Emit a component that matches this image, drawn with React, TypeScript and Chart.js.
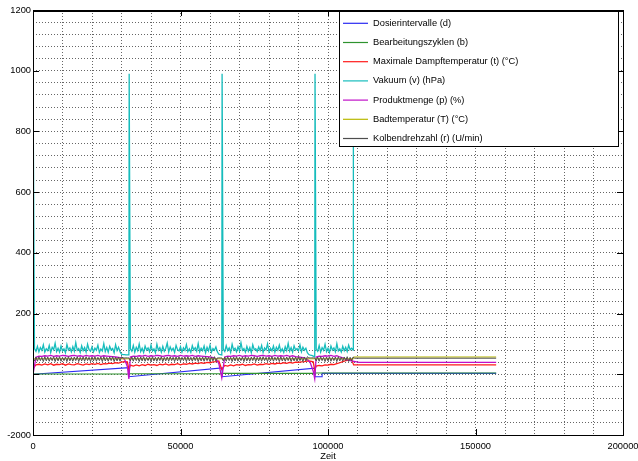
import React, { useEffect, useRef } from 'react';
import { Chart, registerables } from 'chart.js';

Chart.register(...registerables);

// ---------- DATA ----------
const SERIES_LABELS = [
  'Dosierintervalle (d)',
  'Bearbeitungszyklen (b)',
  'Maximale Dampftemperatur (t) (°C)',
  'Vakuum (v) (hPa)',
  'Produktmenge (p) (%)',
  'Badtemperatur (T) (°C)',
  'Kolbendrehzahl (r) (U/min)',
];
const SERIES_COLORS = ['#2a2af2', '#2e932e', '#ff1a1a', '#16bcbc', '#c010c8', '#b8b800', '#4e4e4e'];

// Dosierintervalle: sawtooth
const DOSIER_T = [0, 32500, 32500, 64100, 64100, 95600, 95600, 98000, 98000, 157000];
const DOSIER_V = [0, 22, -8, 21, -8, 20, -8, -8, 3, 3];

// Bearbeitungszyklen: steps
const BEARB_T = [0, 32500, 32500, 64100, 64100, 95600, 95600, 157000];
const BEARB_V = [1, 1, 2, 2, 3, 3, 4, 4];

// Maximale Dampftemperatur (one value per 1000 Zeit)
const DAMPF_STEP = 1000;
const DAMPF = [
  20, 31, 33, 30, 34, 31, 35, 30, 33, 32,
  35, 30, 34, 32, 31, 35, 33, 30, 34, 32,
  35, 33, 36, 32, 35, 34, 37, 35, 38, 37,
  40, 42, 41, 30, 27, 31, 28, 32, 29, 33,
  30, 32, 29, 33, 31, 34, 30, 33, 32, 35,
  31, 34, 33, 36, 34, 37, 35, 38, 36, 39,
  38, 41, 42, 44, 16, 29, 27, 31, 28, 32,
  30, 33, 29, 32, 31, 34, 30, 33, 32, 35,
  33, 36, 34, 37, 35, 38, 36, 39, 37, 40,
  39, 41, 42, 44, 43, 41, 27, 29, 28, 31,
  30, 33, 32, 35, 38, 42, 45, 47, 49,
];
const DAMPF_EXTRA_T = [32500, 95500, 108700, 157000];
const DAMPF_EXTRA_V = [16, 14, 31, 31];

// Vakuum (one value per 500 Zeit)
const VAKUUM_STEP = 500;
const VAKUUM = [
  990, 85, 76, 92, 74, 88, 79, 97, 73, 84,
  78, 95, 72, 89, 81, 102, 75, 86, 73, 93,
  77, 84, 71, 98, 80, 87, 74, 91, 76, 104,
  79, 85, 72, 94, 78, 88, 73, 99, 81, 76,
  90, 74, 86, 79, 96, 72, 83, 77, 101, 75,
  88, 73, 92, 80, 85, 71, 97, 78, 89, 74,
  66, 65, 65, 64, 64, 64, 84, 76, 95, 73,
  89, 78, 100, 75, 86, 72, 93, 80, 87, 74,
  96, 77, 84, 71, 99, 79, 88, 73, 92, 76,
  85, 103, 74, 90, 78, 86, 72, 95, 81, 77,
  91, 73, 87, 79, 98, 75, 84, 72, 94, 80,
  88, 76, 101, 74, 86, 78, 93, 71, 89, 77,
  96, 73, 85, 79, 90, 74, 66, 65, 64, 82,
  75, 94, 78, 87, 72, 99, 80, 86, 74, 91,
  77, 104, 79, 85, 73, 92, 76, 88, 71, 97,
  81, 84, 75, 90, 78, 95, 72, 87, 80, 100,
  74, 86, 77, 93, 73, 89, 79, 96, 75, 84,
  72, 91, 78, 102, 76, 88, 73, 94, 80, 85,
  77, 97, 74, 89, 79, 86, 71, 65, 63, 62,
  60, 58, 82, 76, 95, 73, 88, 79, 99, 75,
  86, 72, 93, 80, 87, 74, 101, 77, 84, 73,
  92, 78, 89, 75, 96, 81, 86, 80,
];
const VAKUUM_EXTRA_T = [32600, 64100, 95600, 108600, 108600, 157000];
const VAKUUM_EXTRA_V = [990, 990, 990, 80, 1000, 1000];

// Produktmenge (one value per 1000 Zeit)
const PRODUKT_STEP = 1000;
const PRODUKT = [
  0, 56, 60, 59, 61, 60, 62, 59, 61, 60,
  62, 61, 59, 61, 62, 60, 61, 59, 62, 60,
  61, 60, 62, 59, 61, 60, 59, 58, 57, 56,
  54, 50, 25, 57, 60, 59, 61, 60, 62, 59,
  61, 60, 62, 61, 59, 61, 62, 60, 61, 59,
  62, 60, 61, 60, 62, 59, 61, 60, 59, 58,
  57, 55, 52, 35, -12, 57, 60, 59, 61, 60,
  62, 59, 61, 60, 62, 61, 59, 61, 62, 60,
  61, 59, 62, 60, 61, 60, 62, 59, 61, 58,
  57, 56, 54, 50, 38, 10, 57, 60, 59, 61,
  60, 62, 59, 61, 57, 54, 50, 47, 44,
];
const PRODUKT_EXTRA_T = [32500, 95500, 110500, 157000];
const PRODUKT_EXTRA_V = [-15, -15, 39, 39];

// Badtemperatur
const BAD_T = [0, 108600, 108700, 157000];
const BAD_V = [51, 51, 57, 57];

// Kolbendrehzahl (one value per 500 Zeit)
const KOLBEN_STEP = 500;
const KOLBEN = [
  50, 44, 57, 43, 58, 45, 56, 42, 58, 44,
  57, 43, 56, 45, 58, 42, 57, 44, 58, 43,
  56, 45, 57, 42, 58, 44, 56, 43, 57, 45,
  58, 42, 56, 44, 57, 43, 58, 45, 56, 42,
  57, 44, 58, 43, 56, 45, 57, 42, 58, 44,
  56, 43, 57, 45, 58, 42, 56, 44, 57, 43,
  58, 54, 54, 54, 54, 54, 44, 57, 43, 58,
  45, 56, 42, 57, 44, 58, 43, 56, 45, 57,
  42, 58, 44, 56, 43, 57, 45, 58, 42, 56,
  44, 57, 43, 58, 45, 56, 42, 57, 44, 58,
  43, 56, 45, 57, 42, 58, 44, 56, 43, 57,
  45, 58, 42, 56, 44, 57, 43, 58, 45, 56,
  42, 57, 44, 58, 43, 54, 54, 54, 54, 44,
  57, 43, 58, 45, 56, 42, 57, 44, 58, 43,
  56, 45, 57, 42, 58, 44, 56, 43, 57, 45,
  58, 42, 56, 44, 57, 43, 58, 45, 56, 42,
  57, 44, 58, 43, 56, 45, 57, 42, 58, 44,
  56, 43, 57, 45, 58, 42, 56, 44, 57, 43,
  58, 45, 56, 42, 57, 44, 58, 54, 54, 54,
  54, 54, 44, 57, 43, 58, 45, 56, 42, 57,
  44, 58, 43, 56, 45, 57, 42, 58, 44, 56,
  43, 57, 45, 58, 42, 56, 44, 57,
];
const KOLBEN_EXTRA_T = [109000, 157000];
const KOLBEN_EXTRA_V = [53, 53];

// Axes
const X_MIN = 0;
const X_MAX = 200000;
const X_GRID_STEP = 10000;
const X_MAJOR_TICKS = [0, 50000, 100000, 150000, 200000];
const X_MAJOR_LABELS = ['0', '50000', '100000', '150000', '200000'];
const Y_MIN = -200;
const Y_MAX = 1200;
const Y_GRID_STEP = 40;
const Y_MAJOR_TICKS = [1200, 1000, 800, 600, 400, 200, 0, -200];
const Y_MAJOR_LABELS = ['1200', '1000', '800', '600', '400', '200', '', '-2000'];
const X_TITLE = 'Zeit';

// ---------- helpers ----------
type Pt = { x: number; y: number };
function sampled(values: number[], step: number, extraT: number[], extraV: number[]): Pt[] {
  const pts: Pt[] = values.map((v, i) => ({ x: i * step, y: v }));
  extraT.forEach((t, i) => pts.push({ x: t, y: extraV[i] }));
  pts.sort((a, b) => a.x - b.x);
  return pts;
}
function pairs(t: number[], v: number[]): Pt[] {
  return t.map((x, i) => ({ x, y: v[i] }));
}

const FONT_FAMILY = "'Liberation Sans', Arial, Helvetica, sans-serif";
const FONT_SIZE = 9.3;
const TICK_LEN = 6;

const framePlugin = {
  id: 'matlabFrame',
  afterDraw(chart: any) {
    const { ctx, chartArea: a, scales } = chart;
    ctx.save();
    ctx.strokeStyle = '#000';
    ctx.lineWidth = 1;
    ctx.beginPath();
    X_MAJOR_TICKS.forEach((v) => {
      const px = Math.round(scales.x.getPixelForValue(v)) + 0.5;
      ctx.moveTo(px, a.top);
      ctx.lineTo(px, a.top + TICK_LEN);
      ctx.moveTo(px, a.bottom);
      ctx.lineTo(px, a.bottom - TICK_LEN);
    });
    Y_MAJOR_TICKS.forEach((v) => {
      const py = Math.round(scales.y.getPixelForValue(v)) + 0.5;
      ctx.moveTo(a.left, py);
      ctx.lineTo(a.left + TICK_LEN, py);
      ctx.moveTo(a.right, py);
      ctx.lineTo(a.right - TICK_LEN, py);
    });
    ctx.stroke();
    ctx.strokeRect(
      Math.round(a.left) + 0.5,
      Math.round(a.top) + 0.5,
      Math.round(a.right - a.left),
      Math.round(a.bottom - a.top)
    );
    ctx.beginPath();
    ctx.moveTo(Math.round(a.left), Math.round(a.top) + 1.5);
    ctx.lineTo(Math.round(a.right), Math.round(a.top) + 1.5);
    ctx.stroke();

    // legend box
    const lx = 339.5, ly = 11.5, lw = 279, lh = 135;
    ctx.fillStyle = '#fff';
    ctx.fillRect(lx, ly, lw, lh);
    ctx.strokeRect(lx, ly, lw, lh);
    ctx.font = `${FONT_SIZE}px ${FONT_FAMILY}`;
    ctx.textBaseline = 'middle';
    ctx.textAlign = 'left';
    SERIES_LABELS.forEach((label, i) => {
      const y = 23.3 + i * 19.2;
      ctx.strokeStyle = SERIES_COLORS[i];
      ctx.lineWidth = 1.2;
      ctx.beginPath();
      ctx.moveTo(343, y);
      ctx.lineTo(368, y);
      ctx.stroke();
      ctx.fillStyle = '#000';
      ctx.fillText(label, 373, y);
    });
    ctx.restore();
  },
};

export default function App() {
  const ref = useRef<HTMLCanvasElement | null>(null);
  useEffect(() => {
    if (!ref.current) return;
    const seriesData: Pt[][] = [
      pairs(DOSIER_T, DOSIER_V),
      pairs(BEARB_T, BEARB_V),
      sampled(DAMPF, DAMPF_STEP, DAMPF_EXTRA_T, DAMPF_EXTRA_V),
      sampled(VAKUUM, VAKUUM_STEP, VAKUUM_EXTRA_T, VAKUUM_EXTRA_V),
      sampled(PRODUKT, PRODUKT_STEP, PRODUKT_EXTRA_T, PRODUKT_EXTRA_V),
      pairs(BAD_T, BAD_V),
      sampled(KOLBEN, KOLBEN_STEP, KOLBEN_EXTRA_T, KOLBEN_EXTRA_V),
    ];
    const widths = [1.1, 1.1, 1.3, 1.3, 1.3, 1, 1];
    const datasets = seriesData.map((d, i) => ({
      label: SERIES_LABELS[i],
      data: d,
      borderColor: SERIES_COLORS[i],
      backgroundColor: SERIES_COLORS[i],
      borderWidth: widths[i],
      pointRadius: 0,
      tension: 0,
      fill: false,
      order: SERIES_LABELS.length - 1 - i,
    }));
    const gridCommon = { color: 'rgba(0,0,0,0.6)', lineWidth: 1, drawTicks: false };
    const chart = new Chart(ref.current, {
      type: 'line',
      data: { datasets },
      plugins: [framePlugin],
      options: {
        animation: false,
        responsive: false,
        devicePixelRatio: 1,
        layout: { padding: { top: 10, right: 15, left: 0, bottom: 0 } },
        plugins: { legend: { display: false }, tooltip: { enabled: false } },
        scales: {
          x: {
            type: 'linear',
            min: X_MIN,
            max: X_MAX,
            grid: gridCommon,
            border: { display: false, dash: [1, 2] },
            ticks: {
              stepSize: X_GRID_STEP,
              autoSkip: false,
              maxRotation: 0,
              minRotation: 0,
              padding: 6,
              color: '#000',
              font: { family: FONT_FAMILY, size: FONT_SIZE },
              callback: (v: any) => {
                const i = X_MAJOR_TICKS.indexOf(Number(v));
                return i >= 0 ? X_MAJOR_LABELS[i] : '';
              },
            },
            title: {
              display: true,
              text: X_TITLE,
              color: '#000',
              padding: { top: 0, bottom: 0 },
              font: { family: FONT_FAMILY, size: FONT_SIZE, lineHeight: 1 },
            },
            afterFit: (s: any) => {
              s.height = 26;
              s.paddingLeft = 0;
              s.paddingRight = 0;
            },
          },
          y: {
            type: 'linear',
            min: Y_MIN,
            max: Y_MAX,
            grid: gridCommon,
            border: { display: false, dash: [1, 2] },
            ticks: {
              stepSize: Y_GRID_STEP,
              autoSkip: false,
              padding: 2,
              color: '#000',
              font: { family: FONT_FAMILY, size: FONT_SIZE },
              callback: (v: any) => {
                const i = Y_MAJOR_TICKS.indexOf(Number(v));
                return i >= 0 ? Y_MAJOR_LABELS[i] : '';
              },
            },
            afterFit: (s: any) => {
              s.width = 33;
              s.paddingTop = 0;
              s.paddingBottom = 0;
            },
          },
        },
      } as any,
    });
    return () => chart.destroy();
  }, []);
  return (
    <div style={{ position: 'fixed', left: 0, top: 0, width: 638, height: 461, background: '#fff' }}>
      <canvas ref={ref} width={638} height={461} style={{ display: 'block' }} />
    </div>
  );
}
